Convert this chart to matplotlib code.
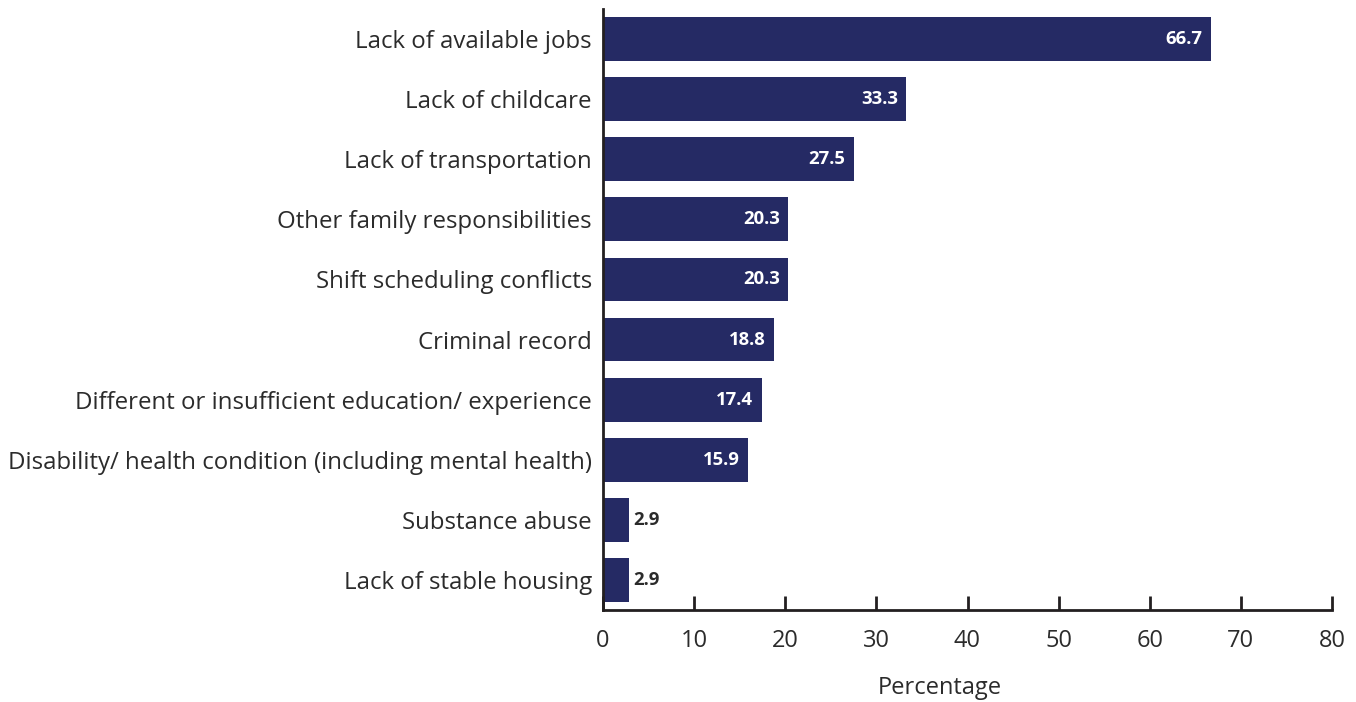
import matplotlib.pyplot as plt

categories = [
    "Lack of available jobs",
    "Lack of childcare",
    "Lack of transportation",
    "Other family responsibilities",
    "Shift scheduling conflicts",
    "Criminal record",
    "Different or insufficient education/ experience",
    "Disability/ health condition (including mental health)",
    "Substance abuse",
    "Lack of stable housing",
]
values = [66.7, 33.3, 27.5, 20.3, 20.3, 18.8, 17.4, 15.9, 2.9, 2.9]
xticks = [0, 10, 20, 30, 40, 50, 60, 70, 80]

bar_color = "#252a64"
text_color = "#2b2b2b"
axis_color = "#231f20"

plt.rcParams['font.family'] = ['Open Sans', 'DejaVu Sans']

fig = plt.figure(figsize=(13.56, 7.02), dpi=100)
ax = fig.add_axes([603 / 1356, 92 / 702, (1332 - 603) / 1356, (693 - 92) / 702])

ypos = list(range(len(categories)))[::-1]
ax.barh(ypos, values, height=0.73, color=bar_color)

for y, v in zip(ypos, values):
    if v > 10:
        ax.text(v - 0.9, y, f"{v:.1f}", ha='right', va='center',
                color='white', fontsize=13.3, fontweight='bold')
    else:
        ax.text(v + 0.4, y, f"{v:.1f}", ha='left', va='center',
                color=text_color, fontsize=13.3, fontweight='bold')

ax.set_ylim(-0.5, len(categories) - 0.5)
ax.set_xlim(0, 80)
ax.set_yticks(ypos)
ax.set_yticklabels(categories, fontsize=17.3, color=text_color, va='center_baseline')
ax.set_xticks(xticks)
ax.set_xticklabels([str(t) for t in xticks], fontsize=17, color=text_color)

ax.tick_params(axis='y', length=0, pad=8)
ax.tick_params(axis='x', direction='in', length=10, width=2, color=axis_color, pad=14)

for s in ['top', 'right']:
    ax.spines[s].set_visible(False)
for s in ['left', 'bottom']:
    ax.spines[s].set_linewidth(2)
    ax.spines[s].set_color(axis_color)

ax.set_xlabel("Percentage", fontsize=17, color=text_color)
ax.xaxis.set_label_coords(0.462, -0.11)

fig.savefig("out.png", dpi=100)
